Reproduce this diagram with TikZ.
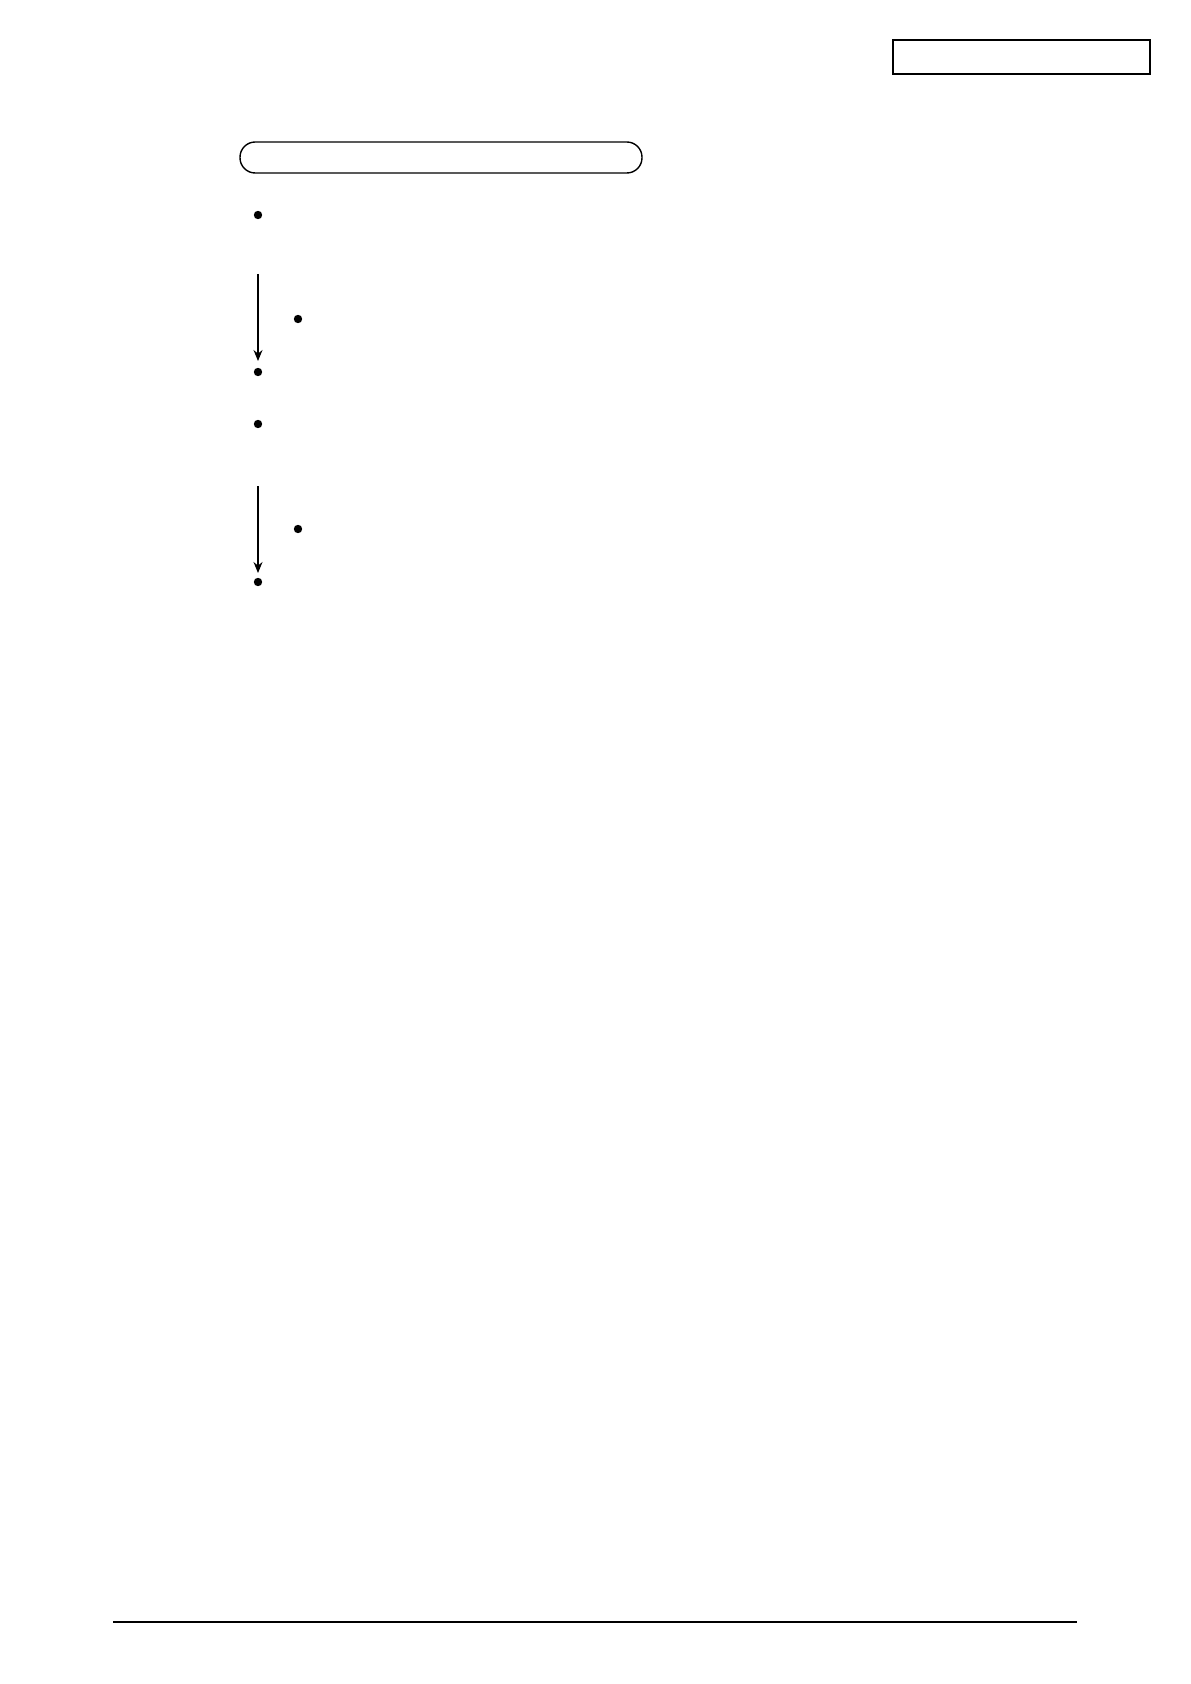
\documentclass[tikz,border=0pt]{standalone}
\usetikzlibrary{arrows.meta}
\begin{document}
\begin{tikzpicture}[x=0.5pt,y=-0.5pt,
  bulletdot/.style={circle,fill=black,inner sep=0pt,minimum size=4.2pt},
  flowarrow/.style={line width=0.6pt,-{Stealth[length=5.5pt,width=4.5pt,inset=1.8pt]}},
  framebox/.style={draw,line width=1pt},
  pillbox/.style={draw,line width=0.7pt,rounded corners=7.6pt}]
\useasboundingbox (0,0) rectangle (1190,1684);
% header box
\draw[framebox] (893,40) rectangle (1150,74);
% title pill
\draw[pillbox] (240,142) rectangle (642,173);
% bullets
\node[bulletdot] (b1) at (258,215) {};
\node[bulletdot] (s1) at (298,319) {};
\node[bulletdot] (b2) at (258,372) {};
\node[bulletdot] (b3) at (258,424) {};
\node[bulletdot] (s2) at (298,529) {};
\node[bulletdot] (b4) at (258,582) {};
% arrows
\coordinate (a1s) at (258,274);
\coordinate (a1e) at (258,361);
\coordinate (a2s) at (258,486);
\coordinate (a2e) at (258,573);
\draw[flowarrow] (a1s) -- (a1e);
\draw[flowarrow] (a2s) -- (a2e);
% footer rule
\coordinate (f1) at (113,1622);
\coordinate (f2) at (1077,1622);
\draw[line width=0.8pt] (f1) -- (f2);
\end{tikzpicture}
\end{document}
